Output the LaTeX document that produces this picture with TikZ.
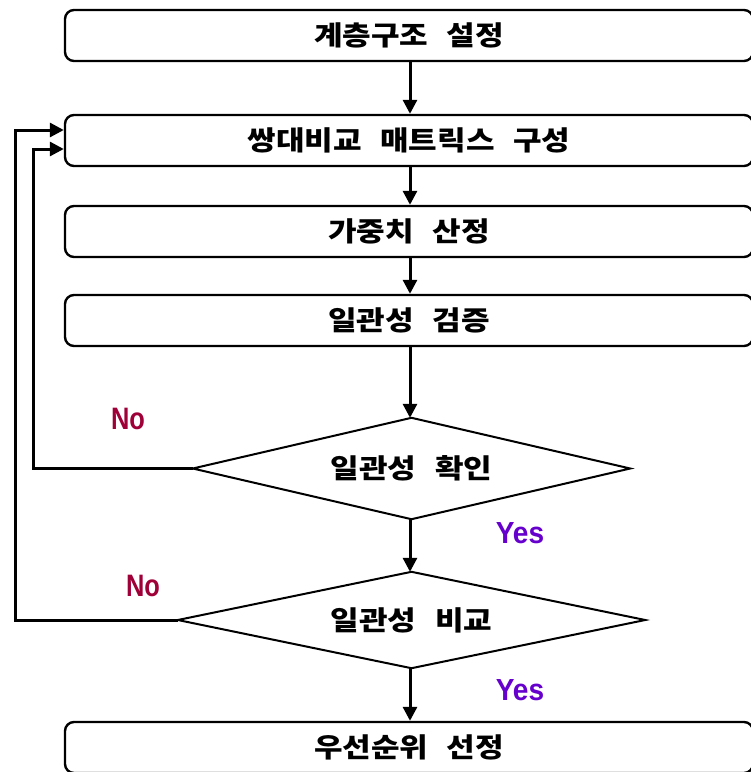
\documentclass[tikz,border=0pt]{standalone}
\usepackage{fontspec}
\usetikzlibrary{arrows.meta}
\newfontfamily\kfont[FakeStretch=1.15,WordSpace=2.6]{Noto Sans CJK KR}
\newfontfamily\lblfont[FakeStretch=0.82]{Liberation Sans}
\newfontfamily\yesfont[FakeStretch=0.92]{Liberation Sans}
\definecolor{nocol}{RGB}{160,0,56}
\definecolor{yescol}{RGB}{102,0,204}
\tikzset{
  ktext/.style={font=\kfont\bfseries\fontsize{27}{31}\selectfont},
  stepbox/.style={ktext, draw=black, line width=2.4pt, rounded corners=9pt, minimum width=688pt,
    minimum height=51pt, inner sep=0pt},
  decide/.style={ktext, rectangle, inner sep=0pt},
  rhombus/.style={draw=black, line width=2pt, line join=miter},
  flow/.style={line width=3pt, -{Triangle[length=14pt,width=14pt]}},
  nolbl/.style={text=nocol, font=\lblfont\bfseries\fontsize{31}{34}\selectfont, inner sep=0pt},
  yeslbl/.style={text=yescol, font=\yesfont\bfseries\fontsize{30.5}{34}\selectfont, inner sep=0pt}
}
\begin{document}
\begin{tikzpicture}[x=1pt,y=-1pt]
\useasboundingbox (0,0) rectangle (751,772);
\clip (0,0) rectangle (751,772);
\fill[white] (0,0) rectangle (751,772);
\node[stepbox] (b1) at (409,35.5) {계층구조 설정};
\node[stepbox] (b2) at (409,140.5) {쌍대비교 매트릭스 구성};
\node[stepbox] (b3) at (409,231.5) {가중치 산정};
\node[stepbox] (b4) at (409,320.5) {일관성 검증};
\node[decide, minimum width=437pt, minimum height=101pt] (d1) at (411.5,468.5) {일관성 확인};
\node[decide, minimum width=467pt, minimum height=96pt] (d2) at (411.5,620) {일관성 비교};
\draw[rhombus] (d1.north) -- (d1.east) -- (d1.south) -- (d1.west) -- cycle;
\draw[rhombus] (d2.north) -- (d2.east) -- (d2.south) -- (d2.west) -- cycle;
\node[stepbox] (b5) at (409,747.5) {우선순위 선정};
\coordinate (x1) at (410,0);
\draw[flow] (b1.south -| x1) -- (b2.north -| x1);
\draw[flow] (b2.south -| x1) -- (b3.north -| x1);
\draw[flow] (b3.south -| x1) -- (b4.north -| x1);
\draw[flow] (b4.south -| x1) -- (d1.north -| x1);
\draw[flow] (d1.south -| x1) -- (d2.north -| x1);
\draw[flow] (d2.south -| x1) -- (b5.north -| x1);
\coordinate (in1) at ([yshift=-8.5pt]b2.west);
\coordinate (in2) at ([yshift=10.5pt]b2.west);
\draw[flow, line join=miter] (d1.west) -- (33,468.5) -- (33,149) -- (in1);
\draw[flow, line join=miter] (d2.west) -- (15,620) -- (15,130) -- (in2);
\node[nolbl] (no1) at (128,418.5) {No};
\node[nolbl] (no2) at (143,586) {No};
\node[yeslbl] (yes1) at (520,533) {Yes};
\node[yeslbl] (yes2) at (520,690.5) {Yes};
\end{tikzpicture}
\end{document}
